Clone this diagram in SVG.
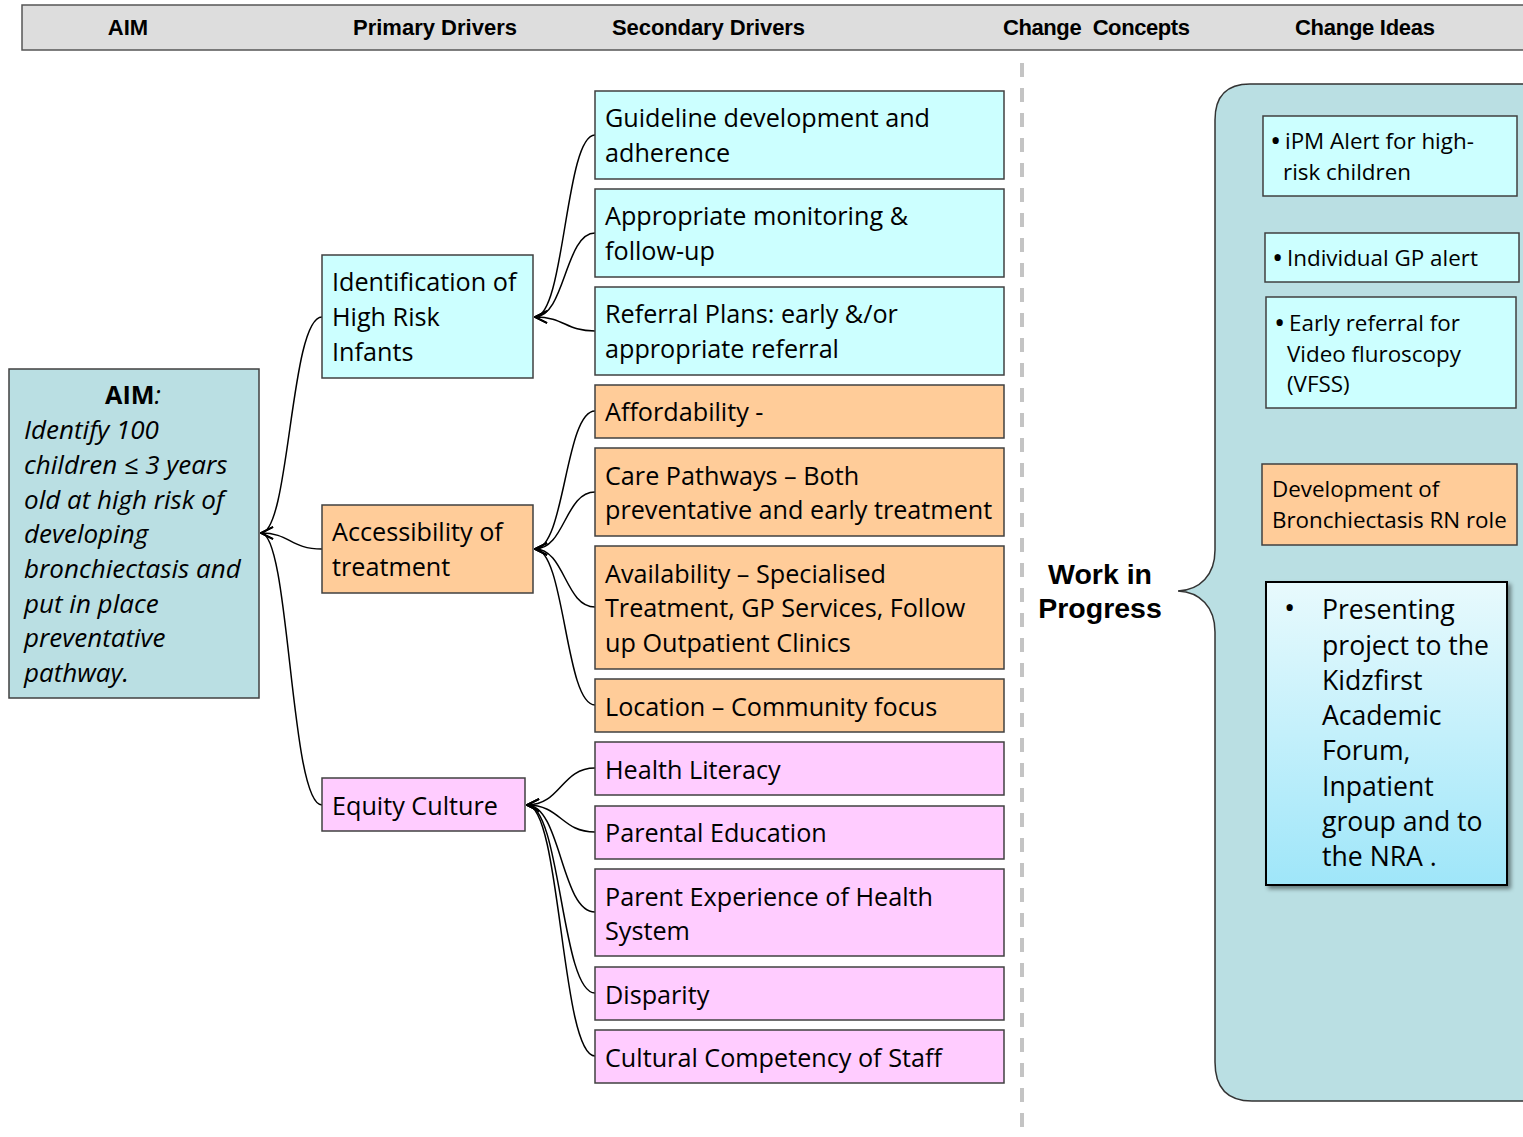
<svg xmlns="http://www.w3.org/2000/svg" width="1523" height="1137" viewBox="0 0 1523 1137">
  <style>
    .hdr { font-family: "Liberation Sans", Arial, sans-serif; font-weight: bold; font-size: 22px; fill: #000; }
    .box { stroke: #404040; stroke-width: 1.5; }
    .cyan { fill: #ccffff; }
    .orange { fill: #ffcc99; }
    .pink { fill: #ffccff; }
    .teal { fill: #badfe3; }
    .t { font-family: "Open Sans", "Liberation Sans", sans-serif; font-size: 25.2px; fill: #000; }
    .ts { font-family: "Open Sans", "Liberation Sans", sans-serif; font-size: 22.4px; fill: #000; }
    .bul { font-family: "Open Sans", "Liberation Sans", sans-serif; font-size: 30px; fill: #000; }
    .tp { font-family: "Open Sans", "Liberation Sans", sans-serif; font-size: 26.6px; fill: #000; }
    .aim { font-family: "Open Sans", "Liberation Sans", sans-serif; font-size: 26px; font-style: italic; fill: #000; }
    .wip { font-family: "Liberation Sans", Arial, sans-serif; font-weight: bold; font-size: 28.5px; fill: #000; }
    .conn { fill: none; stroke: #000; stroke-width: 1.5; marker-end: url(#open); }
  </style>
  <defs>
    <marker id="open" viewBox="0 0 14 14" refX="13" refY="7" markerWidth="14" markerHeight="14" markerUnits="userSpaceOnUse" orient="auto">
      <path d="M1,1 L13,7 L1,13" fill="none" stroke="#000" stroke-width="1.7"/>
    </marker>
    <linearGradient id="blueGrad" x1="0" y1="0" x2="0" y2="1">
      <stop offset="0" stop-color="#e8fafd"/>
      <stop offset="1" stop-color="#9fe6f9"/>
    </linearGradient>
    <filter id="shadow" x="-10%" y="-10%" width="125%" height="125%">
      <feDropShadow dx="3" dy="3" stdDeviation="2" flood-color="#000" flood-opacity="0.45"/>
    </filter>
  </defs>

  <!-- column header bar -->
  <g id="header">
    <rect x="22" y="5" width="1510" height="45" fill="#dddddd" stroke="#555" stroke-width="1.5"/>
    <text class="hdr" x="128" y="35" text-anchor="middle">AIM</text>
    <text class="hdr" x="353" y="35" textLength="164">Primary Drivers</text>
    <text class="hdr" x="612" y="35" textLength="193">Secondary Drivers</text>
    <text class="hdr" x="1003" y="35" textLength="187" xml:space="preserve">Change  Concepts</text>
    <text class="hdr" x="1295" y="35" textLength="140">Change Ideas</text>
  </g>

  <!-- divider -->
  <line x1="1022" y1="63" x2="1022" y2="1137" stroke="#c4c4c4" stroke-width="4" stroke-dasharray="14 11"/>

  <!-- connectors -->
  <g id="connectors">
    <!-- primary to aim -->
    <path class="conn" d="M322,317 C290,317 290,533 261,533"/>
    <path class="conn" d="M322,549 C290,549 290,533 261,533"/>
    <path class="conn" d="M322,805 C290,805 290,533 261,533"/>
    <!-- secondary to identification -->
    <path class="conn" d="M595,135 C565,135 565,317 535,317"/>
    <path class="conn" d="M595,233 C565,233 565,317 535,317"/>
    <path class="conn" d="M595,331 C565,331 565,317 535,317"/>
    <!-- secondary to accessibility -->
    <path class="conn" d="M595,411 C565,411 565,549 535,549"/>
    <path class="conn" d="M595,492 C565,492 565,549 535,549"/>
    <path class="conn" d="M595,607 C565,607 565,549 535,549"/>
    <path class="conn" d="M595,705 C565,705 565,549 535,549"/>
    <!-- secondary to equity -->
    <path class="conn" d="M595,768 C561,768 561,805 527,805"/>
    <path class="conn" d="M595,832 C561,832 561,805 527,805"/>
    <path class="conn" d="M595,912 C561,912 561,805 527,805"/>
    <path class="conn" d="M595,993 C561,993 561,805 527,805"/>
    <path class="conn" d="M595,1056 C561,1056 561,805 527,805"/>
  </g>

  <!-- aim -->
  <g id="aim">
    <rect class="box teal" x="9" y="369" width="250" height="329"/>
    <text x="133" y="404" text-anchor="middle" class="t"><tspan font-weight="bold">AIM</tspan><tspan font-style="italic">:</tspan></text>
    <text class="aim" x="24" y="439">Identify 100</text>
    <text class="aim" x="24" y="474">children ≤ 3 years</text>
    <text class="aim" x="24" y="509">old at high risk of</text>
    <text class="aim" x="24" y="543">developing</text>
    <text class="aim" x="24" y="578">bronchiectasis and</text>
    <text class="aim" x="24" y="613">put in place</text>
    <text class="aim" x="24" y="647">preventative</text>
    <text class="aim" x="24" y="682">pathway.</text>
  </g>

  <!-- primary drivers -->
  <g id="primary-identification">
    <rect class="box cyan" x="322" y="255" width="211" height="123"/>
    <text class="t" x="332" y="291">Identification of</text>
    <text class="t" x="332" y="326">High Risk</text>
    <text class="t" x="332" y="361">Infants</text>
  </g>
  <g id="primary-accessibility">
    <rect class="box orange" x="322" y="505" width="211" height="88"/>
    <text class="t" x="332" y="541">Accessibility of</text>
    <text class="t" x="332" y="576">treatment</text>
  </g>
  <g id="primary-equity">
    <rect class="box pink" x="322" y="778" width="203" height="53"/>
    <text class="t" x="332" y="815">Equity Culture</text>
  </g>

  <!-- secondary drivers -->
  <g id="sec-guideline">
    <rect class="box cyan" x="595" y="91" width="409" height="88"/>
    <text class="t" x="605" y="127">Guideline development and</text>
    <text class="t" x="605" y="162">adherence</text>
  </g>
  <g id="sec-monitoring">
    <rect class="box cyan" x="595" y="189" width="409" height="88"/>
    <text class="t" x="605" y="225">Appropriate monitoring &amp;</text>
    <text class="t" x="605" y="260">follow-up</text>
  </g>
  <g id="sec-referral">
    <rect class="box cyan" x="595" y="287" width="409" height="88"/>
    <text class="t" x="605" y="323">Referral Plans: early &amp;/or</text>
    <text class="t" x="605" y="358">appropriate referral</text>
  </g>
  <g id="sec-affordability">
    <rect class="box orange" x="595" y="385" width="409" height="53"/>
    <text class="t" x="605" y="421">Affordability -</text>
  </g>
  <g id="sec-care">
    <rect class="box orange" x="595" y="448" width="409" height="88"/>
    <text class="t" x="605" y="485">Care Pathways – Both</text>
    <text class="t" x="605" y="519">preventative and early treatment</text>
  </g>
  <g id="sec-availability">
    <rect class="box orange" x="595" y="546" width="409" height="123"/>
    <text class="t" x="605" y="583">Availability – Specialised</text>
    <text class="t" x="605" y="617">Treatment, GP Services, Follow</text>
    <text class="t" x="605" y="652">up Outpatient Clinics</text>
  </g>
  <g id="sec-location">
    <rect class="box orange" x="595" y="679" width="409" height="53"/>
    <text class="t" x="605" y="716">Location – Community focus</text>
  </g>
  <g id="sec-literacy">
    <rect class="box pink" x="595" y="742" width="409" height="53"/>
    <text class="t" x="605" y="779">Health Literacy</text>
  </g>
  <g id="sec-parental">
    <rect class="box pink" x="595" y="806" width="409" height="53"/>
    <text class="t" x="605" y="842">Parental Education</text>
  </g>
  <g id="sec-experience">
    <rect class="box pink" x="595" y="869" width="409" height="87"/>
    <text class="t" x="605" y="906">Parent Experience of Health</text>
    <text class="t" x="605" y="940">System</text>
  </g>
  <g id="sec-disparity">
    <rect class="box pink" x="595" y="967" width="409" height="53"/>
    <text class="t" x="605" y="1004">Disparity</text>
  </g>
  <g id="sec-cultural">
    <rect class="box pink" x="595" y="1030" width="409" height="53"/>
    <text class="t" x="605" y="1067">Cultural Competency of Staff</text>
  </g>

  <!-- work in progress label -->
  <g id="wip-label">
    <text class="wip" x="1100" y="584" text-anchor="middle">Work in</text>
    <text class="wip" x="1100" y="618" text-anchor="middle">Progress</text>
  </g>

  <!-- change ideas panel with brace -->
  <g id="ideas-panel">
    <path d="M1540,84 L1250,84 Q1215,84 1215,120 L1215,550 C1215,575 1200,590 1178,591 C1200,592 1215,607 1215,632 L1215,1062 Q1215,1101 1252,1101 L1540,1101 Z" fill="#badfe3" stroke="#333" stroke-width="1.5"/>
  </g>
  <g id="idea-ipm">
    <rect class="box cyan" x="1263" y="116" width="254" height="80"/>
    <text class="bul" x="1270" y="151">•</text>
    <text class="ts" x="1285" y="149">iPM Alert for high-</text>
    <text class="ts" x="1283" y="180">risk children</text>
  </g>
  <g id="idea-gp">
    <rect class="box cyan" x="1265" y="233" width="254" height="49"/>
    <text class="bul" x="1272" y="268">•</text>
    <text class="ts" x="1287" y="266">Individual GP alert</text>
  </g>
  <g id="idea-vfss">
    <rect class="box cyan" x="1266" y="297" width="250" height="111"/>
    <text class="bul" x="1274" y="333">•</text>
    <text class="ts" x="1289" y="331">Early referral for</text>
    <text class="ts" x="1287" y="362">Video fluroscopy</text>
    <text class="ts" x="1287" y="392">(VFSS)</text>
  </g>
  <g id="idea-rn">
    <rect class="box orange" x="1262" y="464" width="255" height="81"/>
    <text class="ts" x="1272" y="497">Development of</text>
    <text class="ts" x="1272" y="528">Bronchiectasis RN role</text>
  </g>
  <g id="idea-presenting">
    <rect x="1266" y="582" width="241" height="303" fill="url(#blueGrad)" stroke="#000" stroke-width="2" filter="url(#shadow)"/>
    <text class="bul" x="1284" y="618">•</text>
    <text class="tp" x="1322" y="619">Presenting</text>
    <text class="tp" x="1322" y="655">project to the</text>
    <text class="tp" x="1322" y="690">Kidzfirst</text>
    <text class="tp" x="1322" y="725">Academic</text>
    <text class="tp" x="1322" y="760">Forum,</text>
    <text class="tp" x="1322" y="796">Inpatient</text>
    <text class="tp" x="1322" y="831">group and to</text>
    <text class="tp" x="1322" y="866">the NRA .</text>
  </g>
</svg>
